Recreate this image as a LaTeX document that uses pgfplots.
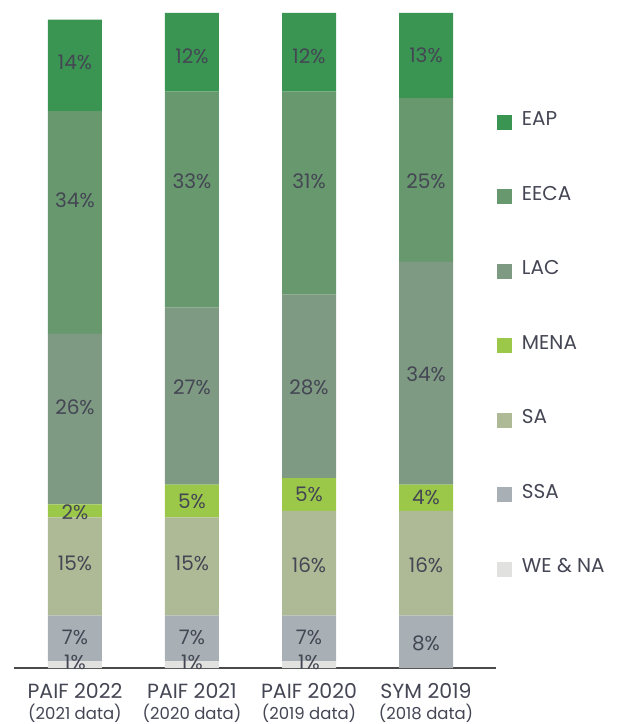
\documentclass[border=0pt]{standalone}
\usepackage{pgfplots}
\pgfplotsset{compat=1.18}
\usepackage{pgfplotstable}
\usepackage{fontspec}
\setmainfont{Poppins}
\definecolor{cEAP}{HTML}{3A9552}
\definecolor{cEECA}{HTML}{68986E}
\definecolor{cLAC}{HTML}{7E9A82}
\definecolor{cMENA}{HTML}{9CC84A}
\definecolor{cSA}{HTML}{AEBA96}
\definecolor{cSSA}{HTML}{A8B0B5}
\definecolor{cWENA}{HTML}{E1E1DF}
\definecolor{txt}{HTML}{444654}
\definecolor{axl}{HTML}{4A4A4A}
% shares (%) per region
\pgfplotstableread{
x WENA SSA SA MENA LAC EECA EAP
0 1 7 15 2 26 34 14
1 1 7 15 5 27 33 12
2 1 7 16 5 28 31 12
3 0 8 16 4 34 25 13
}\data
% vertical label offsets (pt) as placed in the original
\pgfplotstableread{
x oWENA oSSA oSA oMENA oLAC oEECA oEAP
0 2.7 1.5 3.5 -1.2 12 22.6 3.4
1 2.7 1.5 3.5 0 9.2 18.7 -3.7
2 2.7 1.5 -1.8 0 -0.6 12 -3.7
3 0 -1.2 -1.8 0 -0.7 -1 0.6
}\offs
\pgfplotstablecreatecol[copy column from table={\offs}{oWENA}]{oWENA}{\data}
\pgfplotstablecreatecol[copy column from table={\offs}{oSSA}]{oSSA}{\data}
\pgfplotstablecreatecol[copy column from table={\offs}{oSA}]{oSA}{\data}
\pgfplotstablecreatecol[copy column from table={\offs}{oMENA}]{oMENA}{\data}
\pgfplotstablecreatecol[copy column from table={\offs}{oLAC}]{oLAC}{\data}
\pgfplotstablecreatecol[copy column from table={\offs}{oEECA}]{oEECA}{\data}
\pgfplotstablecreatecol[copy column from table={\offs}{oEAP}]{oEAP}{\data}
\begin{document}
\begin{tikzpicture}
\path[use as bounding box] (0,0) rectangle (624pt,724pt);
\begin{axis}[
  at={(14pt,56pt)}, anchor=south west,
  scale only axis, width=482pt, height=655pt,
  ybar stacked, bar width=54pt,
  xmin=-0.521, xmax=3.598, ymin=0, ymax=100,
  axis x line=bottom, axis y line=none,
  x axis line style={-, draw=axl, line width=1.6pt},
  xtick={0,1,2,3}, major tick length=0pt,
  xticklabels={
    {PAIF 2022\\{\fontsize{16.5}{21}\selectfont(2021 data)}},
    {PAIF 2021\\{\fontsize{16.5}{21}\selectfont(2020 data)}},
    {PAIF 2020\\{\fontsize{16.5}{21}\selectfont(2019 data)}},
    {SYM 2019\\{\fontsize{16.5}{21}\selectfont(2018 data)}}},
  xticklabel style={align=center, text=txt, font=\fontsize{20.5}{21}\selectfont, anchor=north, inner sep=0pt, yshift=-15pt},
  ytick=\empty,
  point meta=explicit symbolic,
  nodes near coords={\ifdim\pgfplotspointmeta pt>0pt \pgfplotspointmeta\%\fi},
  every node near coord/.append style={anchor=center, text=txt, font=\fontsize{20}{22}\selectfont, yshift=\labeloff pt},
  legend image code/.code={\fill[#1,draw=none] (0pt,-7.5pt) rectangle (15pt,7.5pt);},
  reverse legend,
  legend cell align=left,
  legend style={at={(1.002,0.845)}, anchor=north west, draw=none, fill=none,
    inner sep=0pt, outer sep=0pt, row sep=59.5pt,
    font=\fontsize{20}{22}\selectfont, text=txt,
    nodes={inner sep=0pt, text height=11pt, text depth=4pt},
    /tikz/every odd column/.append style={column sep=10pt}},
]
\addplot[fill=cWENA, draw=none, visualization depends on={\thisrow{oWENA} \as \labeloff}] table[x=x, y=WENA, meta=WENA] \data;
\addplot[fill=cSSA, draw=none, visualization depends on={\thisrow{oSSA} \as \labeloff}] table[x=x, y=SSA, meta=SSA] \data;
\addplot[fill=cSA, draw=none, visualization depends on={\thisrow{oSA} \as \labeloff}] table[x=x, y=SA, meta=SA] \data;
\addplot[fill=cMENA, draw=none, visualization depends on={\thisrow{oMENA} \as \labeloff}] table[x=x, y=MENA, meta=MENA] \data;
\addplot[fill=cLAC, draw=none, visualization depends on={\thisrow{oLAC} \as \labeloff}] table[x=x, y=LAC, meta=LAC] \data;
\addplot[fill=cEECA, draw=none, visualization depends on={\thisrow{oEECA} \as \labeloff}] table[x=x, y=EECA, meta=EECA] \data;
\addplot[fill=cEAP, draw=none, visualization depends on={\thisrow{oEAP} \as \labeloff}] table[x=x, y=EAP, meta=EAP] \data;
\legend{WE \& NA, SSA, SA, MENA, LAC, EECA, EAP}
\end{axis}
\end{tikzpicture}
\end{document}
